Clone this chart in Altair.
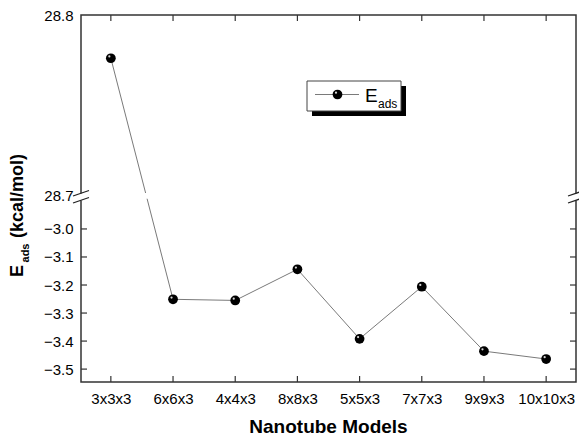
import altair as alt
import pandas as pd

# ---- data ----
models = ["3x3x3", "6x6x3", "4x4x3", "8x8x3", "5x5x3", "7x7x3", "9x9x3", "10x10x3"]
eads = [28.776, -3.251, -3.255, -3.144, -3.392, -3.206, -3.436, -3.464]
lower_ticks = [-3.5, -3.4, -3.3, -3.2, -3.1, -3.0]
upper_ticks = [28.7, 28.8]

# ---- broken-axis mapping (lower segment as is, upper segment compressed onto it) ----
LOW_MIN = -3.546
BREAK_LOW = -2.9
UP_BASE = -2.8796     # display position of 28.7
UP_K = 6.4286         # display units per upper unit
UP_START = 28.7


def disp(v):
    return v if v < 10 else UP_BASE + (v - UP_START) * UP_K


top_disp = disp(upper_ticks[-1])
W, H = 495, 367
FONT = "Liberation Sans"

df = pd.DataFrame({"model": models, "eads": eads})
df["yd"] = [disp(v) for v in eads]

axis_values = lower_ticks + [disp(v) for v in upper_ticks]
label_expr = (f"datum.value > {BREAK_LOW - 0.05} ? "
              f"format({UP_START} + (datum.value - ({UP_BASE})) / {UP_K}, '.1f') : "
              f"format(datum.value, '.1f')")

yscale = alt.Scale(domain=[LOW_MIN, top_disp], nice=False, zero=False)
xscale = alt.Scale(type="point", padding=0.48, domain=models)

X = alt.X("model:N", sort=models, scale=xscale,
          axis=alt.Axis(title=None, labelAngle=0, ticks=False, domain=False,
                        labelPadding=9, labelFontSize=15, labelFont=FONT,
                        labelColor="black"))
Y = alt.Y("yd:Q", scale=yscale,
          axis=alt.Axis(title=None, values=axis_values, labelExpr=label_expr,
                        ticks=False, domain=False, grid=False, labelPadding=8,
                        labelFontSize=15, labelFont=FONT, labelColor="black",
                        labelFlush=False))

base = alt.Chart(df)
line = base.mark_line(color="#7a7a7a", strokeWidth=1).encode(x=X, y=Y)

# gap in the data line at the axis break
gap = alt.Chart(pd.DataFrame({"yd": [BREAK_LOW + 0.008], "yd2": [UP_BASE + 0.008]})).mark_rect(
    color="white").encode(
    x=alt.value(3), x2=alt.value(W - 3), y=Y, y2="yd2:Q")

pts = base.mark_circle(color="black", opacity=1, size=95).encode(x=X, y=Y)
hl = base.mark_circle(color="#d8d8d8", opacity=1, size=5, xOffset=-1.5, yOffset=-1.8).encode(x=X, y=Y)

# inward ticks
tdf = pd.DataFrame({"yd": lower_ticks})
ytick_l = alt.Chart(tdf).mark_rule(color="#333", strokeWidth=1.2).encode(
    y=Y, x=alt.value(0), x2=alt.value(6))
ytick_r = alt.Chart(tdf).mark_rule(color="#333", strokeWidth=1.2).encode(
    y=Y, x=alt.value(W - 6), x2=alt.value(W))
mdf = pd.DataFrame({"model": models})
xtick_b = alt.Chart(mdf).mark_rule(color="#333", strokeWidth=1.2).encode(
    x=X, y=alt.value(H), y2=alt.value(H - 6))
xtick_t = alt.Chart(mdf).mark_rule(color="#333", strokeWidth=1.2).encode(
    x=X, y=alt.value(0), y2=alt.value(6))

one = alt.Data(values=[{"k": 1}])


def brk(x0):
    layers = []
    layers.append(alt.Chart(one).mark_rule(color="white", strokeWidth=3).encode(
        x=alt.value(x0), y=alt.value(178.5), y2=alt.value(185.5)))
    for dy in (0, 7):
        layers.append(alt.Chart(one).mark_rule(color="#222", strokeWidth=1.3).encode(
            x=alt.value(x0 - 8), x2=alt.value(x0 + 8),
            y=alt.value(181 + dy), y2=alt.value(175.5 + dy)))
    return layers


breaks = brk(0) + brk(W)

# legend
shadow = alt.Chart(one).mark_rect(color="black").encode(
    x=alt.value(231), x2=alt.value(325), y=alt.value(71), y2=alt.value(101))
box = alt.Chart(one).mark_rect(fill="white", stroke="#444", strokeWidth=1).encode(
    x=alt.value(226), x2=alt.value(320), y=alt.value(66), y2=alt.value(96))
leg_line = alt.Chart(one).mark_rule(color="#7a7a7a", strokeWidth=1).encode(
    x=alt.value(234), x2=alt.value(278), y=alt.value(79.5))
leg_pt = alt.Chart(one).mark_circle(color="black", opacity=1, size=95).encode(
    x=alt.value(256.5), y=alt.value(79.5))
leg_hl = alt.Chart(one).mark_circle(color="#d8d8d8", opacity=1, size=5).encode(
    x=alt.value(255), y=alt.value(77.7))
leg_E = alt.Chart(one).mark_text(text="E", font=FONT, fontSize=19, align="left",
                                 baseline="alphabetic", color="black").encode(
    x=alt.value(284), y=alt.value(87))
leg_ads = alt.Chart(one).mark_text(text="ads", font=FONT, fontSize=12, align="left",
                                   baseline="alphabetic", color="black").encode(
    x=alt.value(297), y=alt.value(93))

# axis titles
xtitle = alt.Chart(one).mark_text(text="Nanotube Models", font=FONT, fontSize=19,
                                  fontWeight="bold", align="center",
                                  baseline="alphabetic", color="black").encode(
    x=alt.value(W / 2), y=alt.value(418))
yE = alt.Chart(one).mark_text(text="E", font=FONT, fontSize=18, fontWeight="bold",
                              angle=270, align="center", baseline="middle",
                              color="black").encode(x=alt.value(-63.5), y=alt.value(256))
yads = alt.Chart(one).mark_text(text="ads", font=FONT, fontSize=11, fontWeight="bold",
                                angle=270, align="center", baseline="middle",
                                color="black").encode(x=alt.value(-55), y=alt.value(238))
yunit = alt.Chart(one).mark_text(text="(kcal/mol)", font=FONT, fontSize=18,
                                 fontWeight="bold", angle=270, align="center",
                                 baseline="middle", color="black").encode(
    x=alt.value(-63), y=alt.value(181))

chart = alt.layer(
    line, gap, pts, hl, ytick_l, ytick_r, xtick_b, xtick_t, *breaks,
    shadow, box, leg_line, leg_pt, leg_hl, leg_E, leg_ads,
    xtitle, yE, yads, yunit,
).resolve_scale(y="shared", x="shared").properties(
    width=W, height=H,
    autosize=alt.AutoSizeParams(type="none"),
    padding={"left": 81, "top": 15, "right": 3, "bottom": 58},
    background="white",
).configure_view(stroke="#333", strokeWidth=1.5)

chart.save("out.html", embed_options={"renderer": "svg", "actions": False})
